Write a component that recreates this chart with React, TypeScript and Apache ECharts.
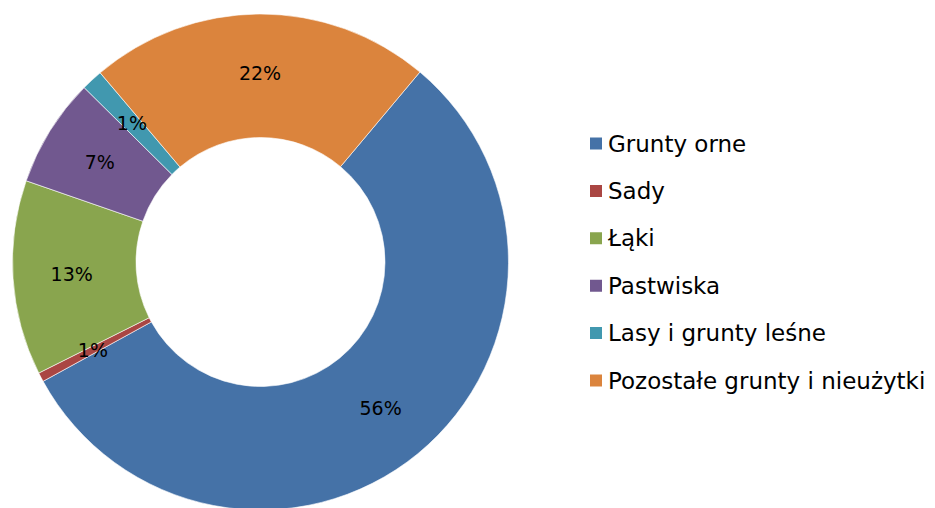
import React, { useEffect, useRef } from "react";
import * as echarts from "echarts";

const categories = [
  "Grunty orne",
  "Sady",
  "Łąki",
  "Pastwiska",
  "Lasy i grunty leśne",
  "Pozostałe grunty i nieużytki",
];
const values = [55.9, 0.6, 12.7, 7.1, 1.4, 22.3];
const colors = ["#4572A7", "#AA4643", "#89A54E", "#71588F", "#4198AF", "#DB843D"];

export default function App() {
  const ref = useRef<HTMLDivElement>(null);
  useEffect(() => {
    document.body.style.margin = "0";
    const chart = echarts.init(ref.current!, null, { renderer: "svg" });
    chart.setOption({
      animation: false,
      color: colors,
      legend: {
        orient: "vertical",
        left: 583,
        top: 127,
        itemWidth: 14,
        itemHeight: 14,
        itemGap: 24.4,
        icon: "rect",
        data: categories,
        textStyle: { fontFamily: "DejaVu Sans", fontSize: 23, color: "#000" },
      },
      series: [
        {
          type: "pie",
          center: [260.5, 262],
          radius: [124.5, 248],
          startAngle: 50,
          clockwise: true,
          avoidLabelOverlap: false,
          itemStyle: { borderColor: "#fff", borderWidth: 0.6 },
          label: {
            show: true,
            position: "inside",
            formatter: (p: any) => Math.round(p.value) + "%",
            fontFamily: "DejaVu Sans",
            fontSize: 19,
            color: "#000",
          },
          labelLine: { show: false },
          emphasis: { disabled: true },
          data: categories.map((c, i) => ({ name: c, value: values[i] })),
        },
      ],
    });
    return () => chart.dispose();
  }, []);
  return <div ref={ref} style={{ width: 935, height: 508 }} />;
}
